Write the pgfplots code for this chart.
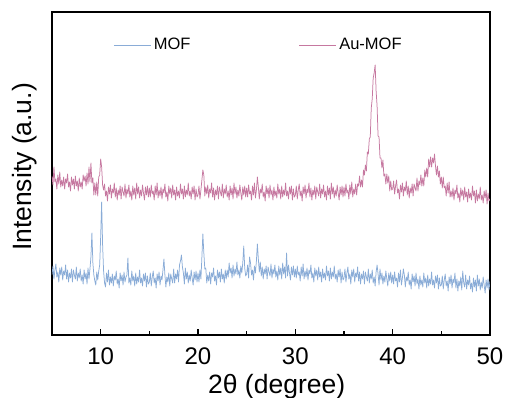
\documentclass[border=0pt]{standalone}
\usepackage{pgfplots}
\pgfplotsset{compat=1.18}
\usepackage{pgfplotstable}
\usepackage{fontspec}
\setmainfont{Liberation Sans}
\definecolor{mofblue}{RGB}{138,172,215}
\definecolor{aupink}{RGB}{198,120,160}
\pgfplotstableread{
x a b
5.0 60 159
5.1 69 150
5.2 56 168
5.3 65 153
5.4 71 156
5.5 58 146
5.6 63 160
5.7 53 151
5.8 67 163
5.9 60 148
6.0 68 155
6.1 55 149
6.2 64 158
6.3 60 146
6.4 70 156
6.5 56 152
6.6 65 161
6.7 53 148
6.8 62 153
6.9 57 144
7.0 66 158
7.1 53 150
7.2 65 156
7.3 60 146
7.4 56 159
7.5 68 149
7.6 54 154
7.7 62 144
7.8 57 157
7.9 66 148
8.0 54 153
8.1 60 146
8.2 51 160
8.3 65 154
8.4 56 159
8.5 62 149
8.6 51 162
8.7 67 151
8.8 56 168
8.9 66 153
9.0 78 172
9.1 102 152
9.2 72 157
9.3 60 140
9.4 54 152
9.5 50 140
9.6 63 153
9.7 55 139
9.8 64 158
9.9 70 160
10.0 98 176
10.1 133 168
10.2 90 150
10.3 64 145
10.4 52 151
10.5 48 139
10.6 62 144
10.7 53 134
10.8 65 148
10.9 50 141
11.0 58 150
11.1 52 137
11.2 61 146
11.3 49 142
11.4 59 152
11.5 55 138
11.6 64 147
11.7 51 135
11.8 56 145
11.9 47 140
12.0 62 149
12.1 54 136
12.2 60 148
12.3 50 143
12.4 63 139
12.5 53 151
12.6 58 137
12.7 60 146
12.8 77 141
12.9 52 150
13.0 57 138
13.1 50 144
13.2 64 135
13.3 54 149
13.4 59 140
13.5 49 147
13.6 62 136
13.7 51 152
13.8 58 141
13.9 53 148
14.0 65 137
14.1 52 145
14.2 57 139
14.3 49 150
14.4 61 142
14.5 54 135
14.6 62 148
14.7 48 140
14.8 59 149
14.9 51 138
15.0 53 147
15.1 62 138
15.2 49 150
15.3 58 141
15.4 64 144
15.5 52 135
15.6 57 149
15.7 47 140
15.8 61 152
15.9 54 137
16.0 63 145
16.1 50 139
16.2 59 148
16.3 55 136
16.4 65 146
16.5 76 142
16.6 60 151
16.7 48 138
16.8 58 143
16.9 53 134
17.0 62 149
17.1 49 141
17.2 61 147
17.3 56 137
17.4 52 150
17.5 66 140
17.6 52 145
17.7 61 135
17.8 56 148
17.9 65 139
18.0 53 144
18.1 70 137
18.2 74 151
18.3 80 141
18.4 68 146
18.5 62 136
18.6 51 149
18.7 67 138
18.8 56 145
18.9 63 140
19.0 52 152
19.1 60 139
19.2 54 144
19.3 65 136
19.4 57 148
19.5 50 141
19.6 63 149
19.7 55 135
19.8 64 146
19.9 53 138
20.0 62 140
20.1 53 149
20.2 65 136
20.3 56 145
20.4 78 155
20.5 101 165
20.6 82 160
20.7 66 139
20.8 67 148
20.9 52 141
21.0 60 150
21.1 54 137
21.2 63 146
21.3 51 142
21.4 62 152
21.5 58 138
21.6 67 147
21.7 54 135
21.8 59 145
21.9 50 140
22.0 65 149
22.1 57 136
22.2 63 148
22.3 53 143
22.4 66 139
22.5 56 151
22.6 61 137
22.7 52 146
22.8 65 141
22.9 56 150
23.0 65 138
23.1 58 144
23.2 72 135
23.3 62 149
23.4 67 140
23.5 57 147
23.6 70 136
23.7 59 152
23.8 66 141
23.9 61 148
24.0 73 137
24.1 60 145
24.2 65 139
24.3 57 150
24.4 69 142
24.5 62 135
24.6 72 148
24.7 89 140
24.8 67 149
24.9 59 138
25.0 61 147
25.1 70 138
25.2 57 150
25.3 78 141
25.4 72 144
25.5 60 135
25.6 65 149
25.7 55 140
25.8 69 152
25.9 62 137
26.0 74 145
26.1 91 158
26.2 76 148
26.3 63 136
26.4 73 146
26.5 59 142
26.6 68 151
26.7 56 138
26.8 66 143
26.9 61 134
27.0 69 149
27.1 56 141
27.2 68 147
27.3 63 137
27.4 59 150
27.5 71 140
27.6 57 145
27.7 66 135
27.8 61 148
27.9 70 139
28.0 58 144
28.1 64 137
28.2 55 151
28.3 69 141
28.4 60 146
28.5 67 136
28.6 56 149
28.7 72 138
28.8 61 145
28.9 68 140
29.0 57 152
29.1 82 139
29.2 59 144
29.3 70 136
29.4 62 148
29.5 55 141
29.6 68 149
29.7 60 135
29.8 69 146
29.9 58 138
30.0 66 140
30.1 57 149
30.2 69 136
30.3 60 145
30.4 63 151
30.5 54 139
30.6 68 144
30.7 59 134
30.8 71 148
30.9 56 141
31.0 64 150
31.1 58 137
31.2 67 146
31.3 55 142
31.4 65 152
31.5 61 138
31.6 70 147
31.7 57 135
31.8 62 145
31.9 53 140
32.0 67 149
32.1 59 136
32.2 65 148
32.3 55 143
32.4 68 139
32.5 58 151
32.6 63 137
32.7 53 146
32.8 66 141
32.9 57 150
33.0 62 138
33.1 55 144
33.2 69 135
33.3 59 149
33.4 64 140
33.5 54 147
33.6 67 136
33.7 56 152
33.8 63 141
33.9 58 148
34.0 69 137
34.1 56 145
34.2 61 139
34.3 53 150
34.4 65 142
34.5 58 135
34.6 66 148
34.7 52 140
34.8 63 149
34.9 55 138
35.0 57 148
35.1 66 139
35.2 53 151
35.3 62 142
35.4 68 145
35.5 56 136
35.6 61 150
35.7 51 141
35.8 65 153
35.9 58 138
36.0 66 146
36.1 53 141
36.2 62 151
36.3 58 140
36.4 68 151
36.5 54 149
36.6 63 159
36.7 51 148
36.8 61 155
36.9 56 148
37.0 64 165
37.1 51 160
37.2 63 170
37.3 58 164
37.4 54 183
37.5 66 181
37.6 52 196
37.7 61 198
37.8 56 227
37.9 65 236
38.0 52 257
38.1 58 262
38.2 49 270
38.3 63 244
38.4 70 229
38.5 61 199
38.6 50 198
38.7 66 177
38.8 55 177
38.9 62 167
39.0 51 175
39.1 59 159
39.2 53 161
39.3 64 151
39.4 56 161
39.5 49 152
39.6 62 159
39.7 54 144
39.8 63 154
39.9 52 145
40.0 60 146
40.1 51 154
40.2 63 141
40.3 54 149
40.4 57 155
40.5 48 142
40.6 62 146
40.7 53 136
40.8 65 150
40.9 50 143
41.0 57 152
41.1 66 139
41.2 60 148
41.3 48 144
41.4 58 154
41.5 54 140
41.6 63 149
41.7 50 137
41.8 55 147
41.9 46 142
42.0 61 151
42.1 53 139
42.2 59 151
42.3 49 147
42.4 62 144
42.5 51 157
42.6 56 144
42.7 46 154
42.8 59 150
42.9 50 160
43.0 55 149
43.1 48 157
43.2 62 149
43.3 52 165
43.4 57 158
43.5 47 167
43.6 60 158
43.7 49 176
43.8 56 168
43.9 51 178
44.0 63 168
44.1 50 177
44.2 55 172
44.3 47 181
44.4 59 169
44.5 52 160
44.6 60 169
44.7 46 158
44.8 57 164
44.9 49 151
45.0 50 158
45.1 59 147
45.2 46 158
45.3 55 147
45.4 61 149
45.5 49 139
45.6 54 152
45.7 44 142
45.8 58 153
45.9 51 138
46.0 60 144
46.1 47 138
46.2 56 147
46.3 52 135
46.4 62 145
46.5 47 141
46.6 56 150
46.7 44 137
46.8 54 142
46.9 49 133
47.0 58 147
47.1 45 139
47.2 64 145
47.3 52 135
47.4 48 148
47.5 60 138
47.6 46 143
47.7 55 133
47.8 50 146
47.9 59 137
48.0 46 142
48.1 52 135
48.2 43 149
48.3 57 139
48.4 48 144
48.5 55 132
48.6 44 145
48.7 60 134
48.8 49 141
48.9 56 136
49.0 45 148
49.1 53 135
49.2 47 140
49.3 58 132
49.4 50 144
49.5 42 137
49.6 55 145
49.7 47 131
49.8 56 142
49.9 45 134
50.0 54 136
}\xrd
\begin{document}
\begin{tikzpicture}
\begin{axis}[
  scale only axis, width=438pt, height=323pt,
  xmin=5, xmax=50, ymin=0, ymax=323,
  xtick={10,20,30,40,50}, minor xtick={15,25,35,45},
  ytick=\empty,
  xtick pos=bottom, tick align=inside,
  major tick length=6pt, minor tick length=4pt,
  every tick/.style={black, line width=1.5pt},
  axis line style={line width=2pt},
  /pgf/number format/assume math mode=true,
  xticklabel style={font=\fontsize{24}{24}\selectfont, anchor=base, yshift=-30pt},
  xlabel={2θ (degree)},
  ylabel={Intensity (a.u.)},
  xlabel style={font=\fontsize{26.5}{26.5}\selectfont, at={(axis description cs:0.513,-0.18)}, anchor=base},
  ylabel style={font=\fontsize{26.5}{26.5}\selectfont, at={(axis description cs:-0.0457,0.52)}, anchor=base},
  legend style={draw=none, fill=none, at={(axis description cs:0.14,0.898)}, anchor=west,
    font=\fontsize{16.5}{16.5}\selectfont, legend columns=2, inner sep=0pt,
    nodes={inner sep=2.5pt},
    /tikz/every even column/.append style={column sep=106pt}},
  legend image code/.code={\draw[#1, line width=0.8pt] (0pt,0pt) -- (37pt,0pt);},
]
\addplot[mofblue, line width=0.75pt, line join=round] table[x=x, y=a]{\xrd};
\addlegendentry{MOF}
\addplot[aupink, line width=0.75pt, line join=round] table[x=x, y=b]{\xrd};
\addlegendentry{Au-MOF}
\end{axis}
\pgfresetboundingbox
\useasboundingbox (-52pt,-63pt) rectangle (455pt,335pt);
\end{tikzpicture}
\end{document}
